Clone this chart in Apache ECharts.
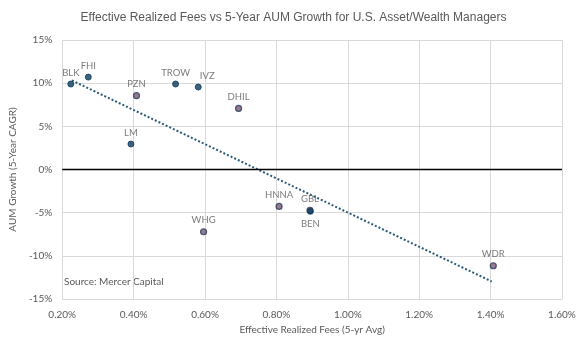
<!DOCTYPE html>
<html><head><meta charset="utf-8">
<script src="https://cdn.jsdelivr.net/npm/echarts@6/dist/echarts.min.js"></script>
<style>html,body{margin:0;padding:0;background:#fff}#c{width:587px;height:350px}</style>
</head><body><div id="c"></div>
<script>
// Navy-filled firms
const navyNames = ['BLK','FHI','TROW','IVZ','LM','BEN'];
const navyFees  = [0.224, 0.273, 0.5175, 0.581, 0.3925, 0.895];
const navyGrowth= [9.9, 10.7, 9.9, 9.55, 2.95, -4.85];
// Mauve-filled firms
const mauveNames = ['PZN','DHIL','HNNA','WHG','GBL','WDR'];
const mauveFees  = [0.408, 0.694, 0.8075, 0.596, 0.894, 1.4075];
const mauveGrowth= [8.55, 7.07, -4.28, -7.21, -4.72, -11.15];
// Trend line endpoints
const trendFees = [0.227, 1.403];
const trendGrowth = [10.32, -12.97];
const xTicks = [0.2, 0.4, 0.6, 0.8, 1.0, 1.2, 1.4, 1.6];
const yTicks = [-15, -10, -5, 0, 5, 10, 15];

const font = 'Lato';
const gray = '#595959';
function pts(names, xs, ys){
  return names.map((n,i)=>{
    let label;
    if (n==='BEN') label = {position:'bottom', distance:4};
    else if (n==='IVZ') label = {offset:[9,0]};
    return {name:n, value:[xs[i], ys[i]], label};
  });
}
const chart = echarts.init(document.getElementById('c'));
chart.setOption({
  animation:false,
  title:{text:'Effective Realized Fees vs 5-Year AUM Growth for U.S. Asset/Wealth Managers',
    left:'center', top:7, textStyle:{fontFamily:'Liberation Sans', fontSize:12, fontWeight:'normal', color:gray}},
  grid:{left:58, right:25, top:40, bottom:51},
  xAxis:{type:'value', min:xTicks[0], max:xTicks[xTicks.length-1], interval:0.2,
    name:'Effective Realized Fees (5-yr Avg)', nameLocation:'middle', nameGap:26,
    nameTextStyle:{fontFamily:font, fontSize:10, color:gray},
    axisLine:{show:false}, axisTick:{show:false},
    axisLabel:{fontFamily:font, fontSize:10, color:gray, margin:11, formatter:v=>v.toFixed(2)+'%'},
    splitLine:{lineStyle:{color:'#d9d9d9', width:1}}},
  yAxis:{type:'value', min:yTicks[0], max:yTicks[yTicks.length-1], interval:5,
    name:'AUM Growth (5-Year CAGR)', nameLocation:'middle', nameGap:33,
    nameTextStyle:{fontFamily:font, fontSize:10, color:gray},
    axisLine:{show:false}, axisTick:{show:false},
    axisLabel:{fontFamily:font, fontSize:10, color:gray, margin:10, formatter:v=>v+'%'},
    splitLine:{lineStyle:{color:'#d9d9d9', width:1}}},
  graphic:[{type:'text', left:64, top:277, style:{text:'Source: Mercer Capital', fontFamily:font, fontSize:10, fill:gray}}],
  series:[
    {type:'line', data:trendFees.map((x,i)=>[x,trendGrowth[i]]), symbol:'none', silent:true,
      lineStyle:{color:'#2a5a78', width:2, type:[2,2]}, z:1,
      markLine:{silent:true, symbol:'none', label:{show:false},
        lineStyle:{color:'#000', width:1.3, type:'solid'}, data:[{yAxis:0}]}},
    {type:'scatter', data:pts(navyNames,navyFees,navyGrowth), symbolSize:6,
      itemStyle:{color:'#0d3b5c', borderColor:'#0d3b5c', borderWidth:1}, z:3,
      label:{show:true, position:'top', distance:3, formatter:'{b}', fontFamily:font, fontSize:9.5, color:gray}},
    {type:'scatter', data:pts(mauveNames,mauveFees,mauveGrowth), symbolSize:6,
      itemStyle:{color:'#7e5876', borderColor:'#22395a', borderWidth:1.2}, z:2,
      label:{show:true, position:'top', distance:3, formatter:'{b}', fontFamily:font, fontSize:9.5, color:gray}}
  ]
});
</script></body></html>
